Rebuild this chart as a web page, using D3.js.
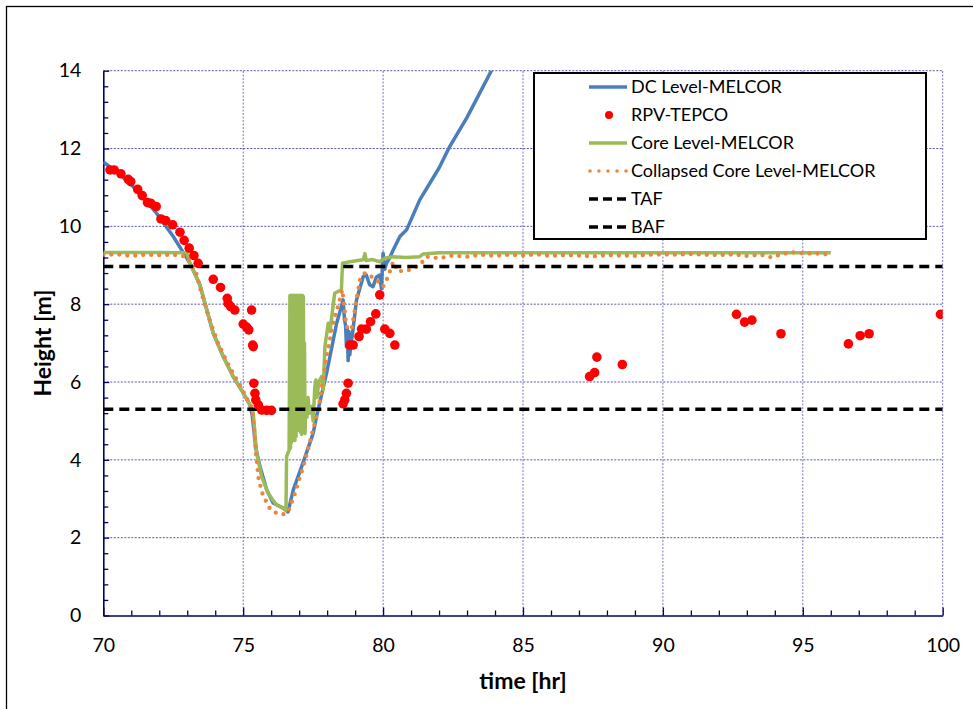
<!DOCTYPE html>
<html><head><meta charset="utf-8">
<script src="https://cdn.jsdelivr.net/npm/d3@7"></script>
<style>
body{margin:0;background:#fff}
svg{display:block}
text{font-family:Lato,"Open Sans",sans-serif;fill:#000}
</style>
</head><body>
<svg id="chart" width="973" height="709"></svg>
<script>
// ---------- data ----------
const xTicks = [70, 75, 80, 85, 90, 95, 100];
const yTicks = [0, 2, 4, 6, 8, 10, 12, 14];
const tafLevel = 8.97;
const bafLevel = 5.30;

const dcTime = [70, 70.5, 70.95, 71.4, 71.9, 72.5, 73.1, 73.45, 73.7, 73.93, 74.29, 74.64, 75.0, 75.24, 75.32, 75.45, 75.6, 75.84, 76.07, 76.43, 76.6,
  76.79, 77.15, 77.5, 77.62, 77.98, 78.34, 78.51, 78.57, 78.62, 78.66, 78.69, 78.72, 78.75, 78.78, 78.81, 78.85, 78.9, 79.05, 79.29, 79.4, 79.52, 79.64,
  79.76, 79.88, 79.94, 80.0, 80.06, 80.12, 80.24, 80.36, 80.6, 80.84, 81.31, 82.0, 82.38, 83.0, 83.87, 84.5];
const dcLevel = [11.66, 11.38, 11.11, 10.75, 10.34, 9.74, 9.05, 8.5, 7.85, 7.25, 6.65, 6.14, 5.72, 5.41, 5.15, 4.3, 3.83, 3.23, 2.89, 2.76, 2.66,
  3.23, 3.95, 4.68, 5.11, 6.23, 7.51, 7.94, 8.11, 7.6, 7.45, 6.9, 7.4, 6.55, 7.3, 6.7, 7.0, 7.2, 8.11, 8.71, 8.75, 8.5, 8.45,
  8.7, 8.75, 8.4, 9.31, 8.9, 9.05, 9.2, 9.39, 9.74, 9.91, 10.68, 11.5, 12.05, 12.8, 14.0, 14.9];

const coreTime = [70, 71, 72, 72.98, 73.1, 73.45, 73.7, 73.93, 74.29, 74.64, 75.0, 75.24, 75.36, 75.48, 75.66, 75.89, 76.19, 76.43, 76.53, 76.55, 76.64,
  76.67, 76.69, 76.71, 76.73, 76.75, 76.77, 76.79, 76.81, 76.83, 76.85, 76.87, 76.89, 76.91, 76.93, 76.95, 76.97, 76.99, 77.01, 77.03, 77.05, 77.07, 77.09, 77.11, 77.13, 77.15, 77.17,
  77.19, 77.21, 77.24, 77.28, 77.32, 77.36, 77.44, 77.5, 77.56, 77.6, 77.64, 77.7, 77.8, 77.86, 77.92, 78.04, 78.1, 78.21, 78.27, 78.51, 78.55,
  78.81, 79.1, 79.29, 79.35, 79.4, 79.6, 79.88, 80.06, 80.36, 80.8, 81.31, 81.43, 82, 84, 86, 88, 90, 92, 94, 96];
const coreLevel = [9.33, 9.33, 9.33, 9.32, 9.05, 8.5, 7.85, 7.25, 6.65, 6.14, 5.72, 5.41, 5.2, 4.17, 3.57, 3.14, 2.84, 2.76, 2.71, 4.08, 4.25,
  8.22, 4.3, 8.23, 4.45, 8.22, 4.5, 8.23, 4.55, 8.22, 4.5, 8.23, 4.6, 8.22, 4.75, 8.23, 4.85, 8.22, 4.8, 8.23, 4.7, 8.22, 4.65, 8.23, 4.7, 8.2, 4.75,
  7.0, 4.68, 5.54, 5.1, 5.6, 5.2, 5.37, 5.0, 5.88, 6.05, 5.6, 6.0, 6.14, 5.8, 6.91, 7.51, 7.3, 7.94, 8.28, 8.37, 9.05,
  9.09, 9.12, 9.14, 9.3, 9.12, 9.15, 9.09, 9.18, 9.22, 9.2, 9.22, 9.29, 9.32, 9.32, 9.32, 9.32, 9.32, 9.32, 9.32, 9.32];

const collTime = [70, 70.5, 71, 71.5, 72, 72.5, 73.0, 73.1, 73.3, 73.5, 73.8, 74.1, 74.5, 74.9, 75.3, 75.38, 75.45, 75.55, 75.7, 75.95, 76.19, 76.43, 76.61,
  76.85, 77.2, 77.68, 77.98, 78.21, 78.45, 78.54, 78.6, 78.69, 78.87, 78.99, 79.17, 79.35, 79.58, 79.82, 80.0, 80.18, 80.36, 80.54, 80.95, 81.31, 81.55,
  82, 82.5, 83, 83.5, 84, 84.5, 85, 85.5, 86, 86.5, 87, 87.5, 88, 88.5, 89, 89.5, 90, 90.5, 91, 91.5, 92, 92.5, 93, 93.5, 93.9, 94.3, 94.7, 95.0, 95.5, 96];
const collLevel = [9.27, 9.28, 9.24, 9.27, 9.26, 9.27, 9.22, 9.05, 8.85, 8.3, 7.6, 7.0, 6.4, 5.9, 5.35, 4.9, 4.2, 3.5, 3.1, 2.75, 2.63, 2.6, 2.67,
  3.14, 3.95, 5.28, 6.65, 7.51, 8.11, 8.37, 8.0, 7.42, 7.34, 7.85, 8.62, 8.8, 8.71, 8.58, 8.45, 8.71, 9.09, 8.84, 8.88, 9.0, 9.22,
  9.18, 9.25, 9.22, 9.27, 9.24, 9.27, 9.25, 9.28, 9.24, 9.26, 9.25, 9.23, 9.26, 9.25, 9.24, 9.27, 9.28, 9.27, 9.29, 9.27, 9.26, 9.28, 9.24, 9.27, 9.2, 9.3, 9.33, 9.31, 9.3, 9.27];

const rpvTime = [70.24, 70.39, 70.63, 70.89, 70.98, 71.23, 71.39, 71.58, 71.7, 71.89, 72.06, 72.23, 72.48, 72.74, 72.89, 73.07, 73.24, 73.39,
  73.93, 74.19, 74.43, 74.46, 74.55, 74.7, 75.3, 75.0, 75.12, 75.2, 75.34, 75.36, 75.38, 75.42, 75.45, 75.54, 75.66, 75.84, 76.01,
  78.57, 78.63, 78.69, 78.75, 78.81, 78.93, 79.14, 79.23, 79.4, 79.55, 79.74, 79.88, 80.06, 80.24, 80.42,
  87.38, 87.56, 87.64, 88.55, 92.63, 92.92, 93.18, 94.22, 96.63, 97.05, 97.37, 99.92];
const rpvLevel = [11.45, 11.45, 11.35, 11.21, 11.15, 10.95, 10.79, 10.61, 10.59, 10.51, 10.19, 10.15, 10.04, 9.85, 9.64, 9.44, 9.25, 9.05,
  8.64, 8.43, 8.15, 8.02, 7.94, 7.85, 7.85, 7.49, 7.41, 7.34, 6.95, 6.91, 5.97, 5.71, 5.54, 5.41, 5.28, 5.27, 5.27,
  5.44, 5.54, 5.71, 5.97, 6.95, 6.95, 7.17, 7.36, 7.36, 7.55, 7.75, 8.24, 7.36, 7.25, 6.95,
  6.14, 6.24, 6.64, 6.45, 7.74, 7.54, 7.59, 7.24, 6.98, 7.19, 7.24, 7.74];

const legendLabels = ["DC Level-MELCOR", "RPV-TEPCO", "Core Level-MELCOR", "Collapsed Core Level-MELCOR", "TAF", "BAF"];

// ---------- styles ----------
const C = {dc: "#4a7ebb", rpv: "#ff0000", core: "#9bbb59", coll: "#e9873f", ref: "#000000", axis: "#000066", grid: "#3a3aad"};

const svg = d3.select("#chart");
const X0 = 103.3, X1 = 942.7, Y0 = 615.5, Y1 = 70.7;
const x = d3.scaleLinear().domain([70, 100]).range([X0, X1]);
const y = d3.scaleLinear().domain([0, 14]).range([Y0, Y1]);

// outer border
svg.append("rect").attr("x", 6.5).attr("y", 6.5).attr("width", 1000).attr("height", 1000)
  .attr("fill", "none").attr("stroke", "#000").attr("stroke-width", 1.3);

svg.append("defs").append("clipPath").attr("id", "clip")
  .append("rect").attr("x", X0).attr("y", Y1).attr("width", X1 - X0).attr("height", Y0 - Y1);

// grid
const grid = svg.append("g");
grid.selectAll(".gx").data(xTicks.filter(d => d > 70)).join("line")
  .attr("x1", d => x(d)).attr("x2", d => x(d)).attr("y1", Y0).attr("y2", Y1)
  .attr("stroke", C.grid).attr("stroke-opacity", 0.7).attr("stroke-width", 1).attr("stroke-dasharray", "2,1.5");
grid.selectAll(".gy").data(yTicks.filter(d => d > 0)).join("line")
  .attr("y1", d => y(d)).attr("y2", d => y(d)).attr("x1", X0).attr("x2", X1)
  .attr("stroke", C.grid).attr("stroke-opacity", 0.85).attr("stroke-width", 1).attr("stroke-dasharray", "2,1.5");

// axes
const minorX = d3.range(71, 100, 1).filter(d => d % 5 !== 0);
const minorY = d3.range(0.4, 14, 0.4).filter(d => Math.abs(d / 2 - Math.round(d / 2)) > 0.01);

svg.append("g").attr("transform", `translate(0,${Y0})`)
  .call(d3.axisBottom(x).tickValues(xTicks).tickSizeInner(-8).tickSizeOuter(0).tickPadding(23).tickFormat(d3.format("d")));
svg.append("g").attr("transform", `translate(0,${Y0})`)
  .call(d3.axisBottom(x).tickValues(minorX).tickSizeInner(-5).tickSizeOuter(0).tickFormat(""))
  .select(".domain").remove();
svg.append("g").attr("transform", `translate(${X0},0)`)
  .call(d3.axisLeft(y).tickValues(yTicks).tickSizeInner(-6).tickSizeOuter(0).tickPadding(22).tickFormat(d3.format("d")));
svg.append("g").attr("transform", `translate(${X0},0)`)
  .call(d3.axisLeft(y).tickValues(minorY).tickSizeInner(-5).tickSizeOuter(0).tickFormat(""))
  .select(".domain").remove();
svg.selectAll(".domain").attr("stroke", C.axis).attr("stroke-width", 1.6);
svg.selectAll(".tick line").attr("stroke", C.axis).attr("stroke-width", 1.3);
svg.selectAll(".tick text").attr("font-size", 19.5).attr("font-family", "Lato");

// axis titles
svg.append("text").attr("x", (X0 + X1) / 2).attr("y", 689).attr("text-anchor", "middle")
  .attr("font-size", 23).attr("font-weight", "bold").text("time [hr]");
svg.append("text").attr("transform", `translate(51,${(Y0 + Y1) / 2}) rotate(-90)`).attr("text-anchor", "middle")
  .attr("font-size", 23).attr("font-weight", "bold").text("Height [m]");

// series
const plot = svg.append("g").attr("clip-path", "url(#clip)");
const line = d3.line().x(d => x(d[0])).y(d => y(d[1]));
const zip = (a, b) => a.map((t, i) => [t, b[i]]);

plot.append("path").datum(zip(dcTime, dcLevel)).attr("d", line)
  .attr("fill", "none").attr("stroke", C.dc).attr("stroke-width", 3.5).attr("stroke-linejoin", "round");
plot.append("path").datum(zip(coreTime, coreLevel)).attr("d", line)
  .attr("fill", "none").attr("stroke", C.core).attr("stroke-width", 3.5).attr("stroke-linejoin", "round");
plot.append("path").datum(zip(collTime, collLevel)).attr("d", line)
  .attr("fill", "none").attr("stroke", C.coll).attr("stroke-width", 4.3).attr("stroke-linecap", "round")
  .attr("stroke-dasharray", "0,8");

[tafLevel, bafLevel].forEach(v => {
  plot.append("line").attr("x1", X0).attr("x2", X1).attr("y1", y(v)).attr("y2", y(v))
    .attr("stroke", C.ref).attr("stroke-width", 3.4).attr("stroke-dasharray", "10,6");
});

plot.selectAll(".rpv").data(zip(rpvTime, rpvLevel)).join("circle")
  .attr("cx", d => x(d[0])).attr("cy", d => y(d[1])).attr("r", 4.8).attr("fill", C.rpv);

// legend
const lg = svg.append("g");
lg.append("rect").attr("x", 534).attr("y", 73).attr("width", 392).attr("height", 166)
  .attr("fill", "#fff").attr("stroke", "#000").attr("stroke-width", 2);
const ly = [87, 115, 143, 171, 199, 227];
const lx0 = 589, lx1 = 627;
legendLabels.forEach((lab, i) => {
  const yy = ly[i];
  if (i === 0) lg.append("line").attr("x1", lx0).attr("x2", lx1).attr("y1", yy).attr("y2", yy).attr("stroke", C.dc).attr("stroke-width", 3.5);
  if (i === 1) lg.append("circle").attr("cx", (lx0 + lx1) / 2 + 1).attr("cy", yy).attr("r", 4).attr("fill", C.rpv);
  if (i === 2) lg.append("line").attr("x1", lx0).attr("x2", lx1).attr("y1", yy).attr("y2", yy).attr("stroke", C.core).attr("stroke-width", 3.5);
  if (i === 3) lg.append("line").attr("x1", lx0 + 1).attr("x2", lx1).attr("y1", yy).attr("y2", yy).attr("stroke", C.coll)
    .attr("stroke-width", 3.6).attr("stroke-linecap", "round").attr("stroke-dasharray", "0,9");
  if (i >= 4) lg.append("line").attr("x1", lx0).attr("x2", lx1).attr("y1", yy).attr("y2", yy).attr("stroke", C.ref)
    .attr("stroke-width", 3.4).attr("stroke-dasharray", "9,5");
  lg.append("text").attr("x", 631).attr("y", yy).attr("dy", "0.35em").attr("font-size", 18).text(lab);
});
</script>
</body></html>
